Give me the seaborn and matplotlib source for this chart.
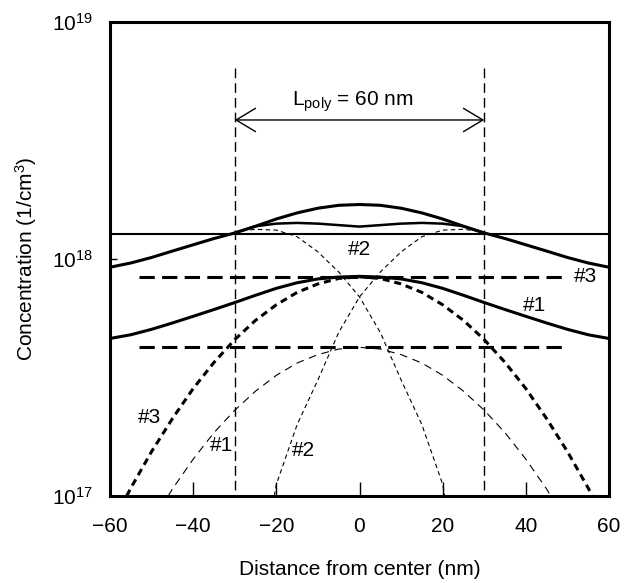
import matplotlib
matplotlib.use("Agg")
import matplotlib.pyplot as plt
import pandas as pd
import seaborn as sns

# ---------------- data ----------------
x_grid = [-60, -55, -50, -45, -40, -35, -30, -25, -20, -15, -10, -5, 0,
          5, 10, 15, 20, 25, 30, 35, 40, 45, 50, 55, 60]

# total profile for #2 (upper solid curve), 1e18 /cm3
total2 = [0.923, 0.962, 1.015, 1.080, 1.148, 1.220, 1.288, 1.375, 1.475, 1.565,
          1.638, 1.685, 1.698, 1.685, 1.638, 1.565, 1.475, 1.375, 1.288, 1.220,
          1.148, 1.080, 1.015, 0.962, 0.923]

# inner solid curve with the slight dip (#2 variant), 1e18 /cm3
x_mid = [-30, -25, -20, -15, -10, -5, 0, 5, 10, 15, 20, 25, 30]
mid2 = [1.288, 1.375, 1.41, 1.42, 1.41, 1.39, 1.37, 1.39, 1.41, 1.42, 1.41, 1.375, 1.288]

# total profile for #1 (lower solid curve), 1e17 /cm3
total1 = [4.62, 4.79, 5.05, 5.37, 5.73, 6.12, 6.55, 7.03, 7.52, 7.94, 8.24, 8.39,
          8.45, 8.39, 8.24, 7.94, 7.52, 7.03, 6.55, 6.12, 5.73, 5.37, 5.05, 4.79, 4.62]

# thick dashed #3 profile, 1e17 /cm3
x_g3 = [-56, -55, -50, -45, -40, -35, -30, -25, -20, -15, -10, -5, 0,
        5, 10, 15, 20, 25, 30, 35, 40, 45, 50, 55, 56]
g3 = [1.00, 1.08, 1.54, 2.12, 2.84, 3.66, 4.57, 5.51, 6.41, 7.23, 7.85, 8.28, 8.41,
      8.28, 7.85, 7.23, 6.41, 5.51, 4.57, 3.66, 2.84, 2.12, 1.54, 1.08, 1.00]

# thin dashed #1 profile, 1e17 /cm3
x_g1 = [-46, -45, -40, -35, -30, -25, -20, -15, -10, -5, 0,
        5, 10, 15, 20, 25, 30, 35, 40, 45, 46]
g1 = [1.00, 1.07, 1.43, 1.85, 2.30, 2.77, 3.23, 3.64, 3.95, 4.17, 4.24,
      4.17, 3.95, 3.64, 3.23, 2.77, 2.30, 1.85, 1.43, 1.07, 1.00]

# thin short-dashed #2 components, 1e17 /cm3
x_g2a = [-30, -25, -20, -15, -10, -5, 0, 5, 10, 15, 20, 20.5]
g2a = [13.03, 13.34, 13.24, 12.42, 10.72, 8.81, 6.92, 4.90, 3.09, 2.00, 1.12, 1.00]
x_g2b = [-20.5, -20, -15, -10, -5, 0, 5, 10, 15, 20, 25, 30]
g2b = [1.00, 1.12, 2.00, 3.09, 4.90, 6.92, 8.81, 10.72, 12.42, 13.24, 13.34, 13.03]

# flat reference levels
flat_solid = 1.27e18
x_flat = [-53, 50]
flat_dash_hi = 8.41e17
flat_dash_lo = 4.24e17

gate_edges = [-30, 30]
gate_top = 6.4e18
arrow_level = 3.86e18

x_ticks = [-60, -40, -20, 0, 20, 40, 60]
y_ticks = [1e17, 1e18, 1e19]
y_tick_labels = ["$10^{17}$", "$10^{18}$", "$10^{19}$"]

# ---------------- style ----------------
sns.set_theme(style="white")
plt.rcParams["font.family"] = ["Liberation Sans", "DejaVu Sans"]
plt.rcParams["mathtext.fontset"] = "custom"
plt.rcParams["mathtext.rm"] = "Liberation Sans"
plt.rcParams["mathtext.it"] = "Liberation Sans:italic"
plt.rcParams["mathtext.bf"] = "Liberation Sans:bold"
for k in ["text.color", "axes.labelcolor", "xtick.color", "ytick.color",
          "axes.edgecolor"]:
    plt.rcParams[k] = "black"

FS = 15

fig = plt.figure(figsize=(6.33, 5.83), dpi=100)
ax = fig.add_axes([110 / 633, 1 - 496 / 583, 499 / 633, 474 / 583])
ax.set_yscale("log")


def draw(xs, ys, scale, lw, ls="-"):
    df = pd.DataFrame({"x": xs, "c": [v * scale for v in ys]})
    sns.lineplot(data=df, x="x", y="c", ax=ax, color="black", lw=lw,
                 linestyle=ls, estimator=None, sort=False)


# flat solid line
draw([-60, 60], [flat_solid, flat_solid], 1.0, 1.5)
# flat long-dashed lines
draw(x_flat, [flat_dash_hi, flat_dash_hi], 1.0, 2.2, (0, (5.0, 2.4)))
draw(x_flat, [flat_dash_lo, flat_dash_lo], 1.0, 2.2, (0, (5.0, 2.4)))
# solid totals
draw(x_grid, total2, 1e18, 2.2)
draw(x_mid, mid2, 1e18, 1.8)
draw(x_grid, total1, 1e17, 2.2)
# dashed components
draw(x_g3, g3, 1e17, 2.2, (0, (2.3, 1.6)))
draw(x_g1, g1, 1e17, 0.8, (0, (7, 5)))
draw(x_g2a, g2a, 1e17, 0.8, (0, (4, 3)))
draw(x_g2b, g2b, 1e17, 0.8, (0, (4, 3)))
# gate edges
for xe in gate_edges:
    draw([xe, xe], [gate_top, 1e17], 1.0, 1.0, (0, (7, 3.6)))

# L_poly arrow
ax.annotate("", xy=(gate_edges[0], arrow_level), xytext=(gate_edges[1], arrow_level),
            arrowprops=dict(arrowstyle="<->,head_length=1.0,head_width=0.6",
                            lw=1.0, color="black", shrinkA=0, shrinkB=0,
                            mutation_scale=14))
ax.text(-1.6, 4.6e18, r"L$_{\mathrm{poly}}$ = 60 nm", ha="center", va="center",
        fontsize=FS)

# curve labels
ax.text(0.1, 1.10e18, "#2", ha="center", va="center", fontsize=FS)
ax.text(51.5, 8.4e17, "#3", ha="left", va="center", fontsize=FS)
ax.text(42.2, 6.34e17, "#1", ha="center", va="center", fontsize=FS)
ax.text(-50.6, 2.15e17, "#3", ha="center", va="center", fontsize=FS)
ax.text(-33.1, 1.63e17, "#1", ha="center", va="center", fontsize=FS)
ax.text(-13.6, 1.56e17, "#2", ha="center", va="center", fontsize=FS)

# axes
ax.set_xlim(-60, 60)
ax.set_ylim(1e17, 1e19)
ax.set_xticks(x_ticks)
ax.set_yticks(y_ticks)
ax.set_yticklabels(y_tick_labels)
ax.yaxis.set_minor_locator(matplotlib.ticker.NullLocator())
ax.tick_params(axis="x", direction="in", length=10, width=1.0, labelsize=FS,
               pad=15, bottom=True, top=False)
ax.tick_params(axis="y", direction="in", length=5, width=1.0, labelsize=FS,
               pad=12, left=True, right=False)
for s in ax.spines.values():
    s.set_visible(True)
    s.set_linewidth(2.2)
    s.set_color("black")

ax.set_xlabel("Distance from center (nm)", fontsize=FS)
ax.set_ylabel("Concentration (1/cm$^3$)", fontsize=FS)
ax.xaxis.set_label_coords(0.5, -0.135)
ax.yaxis.set_label_coords(-0.142, 0.5)

fig.savefig("out.png", dpi=100, facecolor="white")
